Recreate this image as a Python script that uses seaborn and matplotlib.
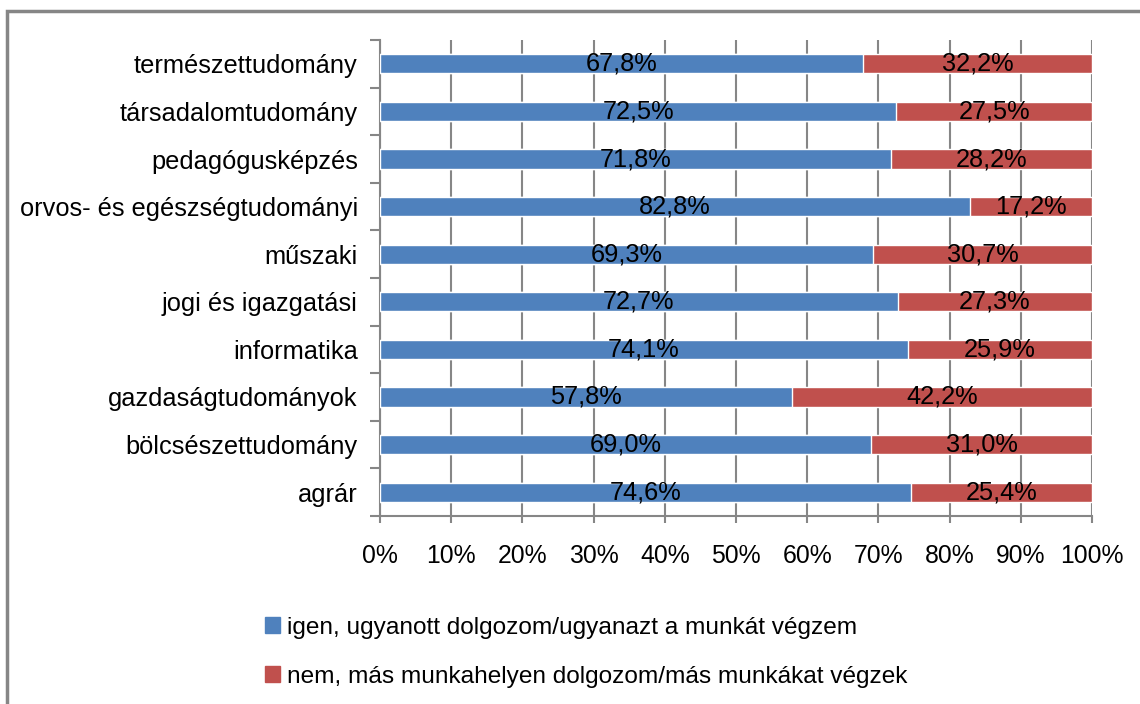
import pandas as pd
import matplotlib.pyplot as plt
import matplotlib.patches as mpatches
import seaborn as sns
from matplotlib.ticker import MultipleLocator, FuncFormatter

# data, top to bottom as in the chart
categories = ['természettudomány', 'társadalomtudomány', 'pedagógusképzés',
              'orvos- és egészségtudományi', 'műszaki', 'jogi és igazgatási',
              'informatika', 'gazdaságtudományok', 'bölcsészettudomány', 'agrár']
igen = [67.8, 72.5, 71.8, 82.8, 69.3, 72.7, 74.1, 57.8, 69.0, 74.6]
nem = [32.2, 27.5, 28.2, 17.2, 30.7, 27.3, 25.9, 42.2, 31.0, 25.4]
legend_labels = ['igen, ugyanott dolgozom/ugyanazt a munkát végzem',
                 'nem, más munkahelyen dolgozom/más munkákat végzek']

BLUE = '#4F81BD'
RED = '#C0504D'
GRID = '#868686'
FS = 18.3

sns.set_style('white')
plt.rcParams['font.family'] = ['Liberation Sans', 'DejaVu Sans']
plt.rcParams['text.color'] = 'black'
plt.rcParams['xtick.labelcolor'] = 'black'
plt.rcParams['ytick.labelcolor'] = 'black'

df = pd.DataFrame({'cat': categories, 'igen': igen, 'nem': nem})
df['total'] = df['igen'] + df['nem']

fig = plt.figure(figsize=(11.4, 7.04), dpi=100)
ax = fig.add_axes([380 / 1140, 1 - 516 / 704, 712 / 1140, 476 / 704])

sns.barplot(data=df, x='total', y='cat', color=RED, width=0.4, ax=ax,
            saturation=1, zorder=3)
sns.barplot(data=df, x='igen', y='cat', color=BLUE, width=0.4, ax=ax,
            saturation=1, zorder=4)

fmt = lambda v: f'{v:.1f}%'.replace('.', ',')
for i, (a, b) in enumerate(zip(igen, nem)):
    ax.text(a / 2, i, fmt(a), ha='center', va='center', fontsize=FS, zorder=5)
    ax.text(a + b / 2, i, fmt(b), ha='center', va='center', fontsize=FS, zorder=5)

ax.set_xlim(0, 100)
ax.set_ylim(len(categories) - 0.5, -0.5)
ax.xaxis.set_major_locator(MultipleLocator(10))
ax.xaxis.set_major_formatter(FuncFormatter(lambda v, p: f'{v:.0f}%'))
ax.set_yticks(range(len(categories)))
ax.set_yticks([i - 0.5 for i in range(len(categories) + 1)], minor=True)
ax.set_xlabel('')
ax.set_ylabel('')

ax.grid(axis='x', color=GRID, linewidth=1.5, zorder=0)
ax.grid(axis='y', visible=False)
for s in ['top', 'right']:
    ax.spines[s].set_visible(False)
for s in ['left', 'bottom']:
    ax.spines[s].set_color(GRID)
    ax.spines[s].set_linewidth(1.5)

ax.tick_params(axis='x', which='major', length=5, width=1.5, color=GRID,
               labelsize=17.8, pad=15, bottom=True)
ax.tick_params(axis='y', which='major', length=0, labelsize=FS, pad=16)
ax.tick_params(axis='y', which='minor', length=7, width=1.5, color=GRID, left=True)

handles = [mpatches.Patch(color=BLUE, label=legend_labels[0]),
           mpatches.Patch(color=RED, label=legend_labels[1])]
fig.legend(handles=handles, loc='upper left', bbox_to_anchor=(255 / 1140, 1 - 607 / 704),
           ncol=1, frameon=False, fontsize=17.6, handlelength=0.62, handleheight=0.62,
           handletextpad=0.3, labelspacing=1.1, borderaxespad=0)

# outer chart frame (only left and top edges are visible in the crop)
fig.patches.append(mpatches.Rectangle((7 / 1140, -0.1), 1.2, (1 - 11 / 704) + 0.1,
                                      transform=fig.transFigure, fill=False,
                                      edgecolor=GRID, linewidth=2.5))

fig.savefig('out.png', dpi=100)
plt.close(fig)
